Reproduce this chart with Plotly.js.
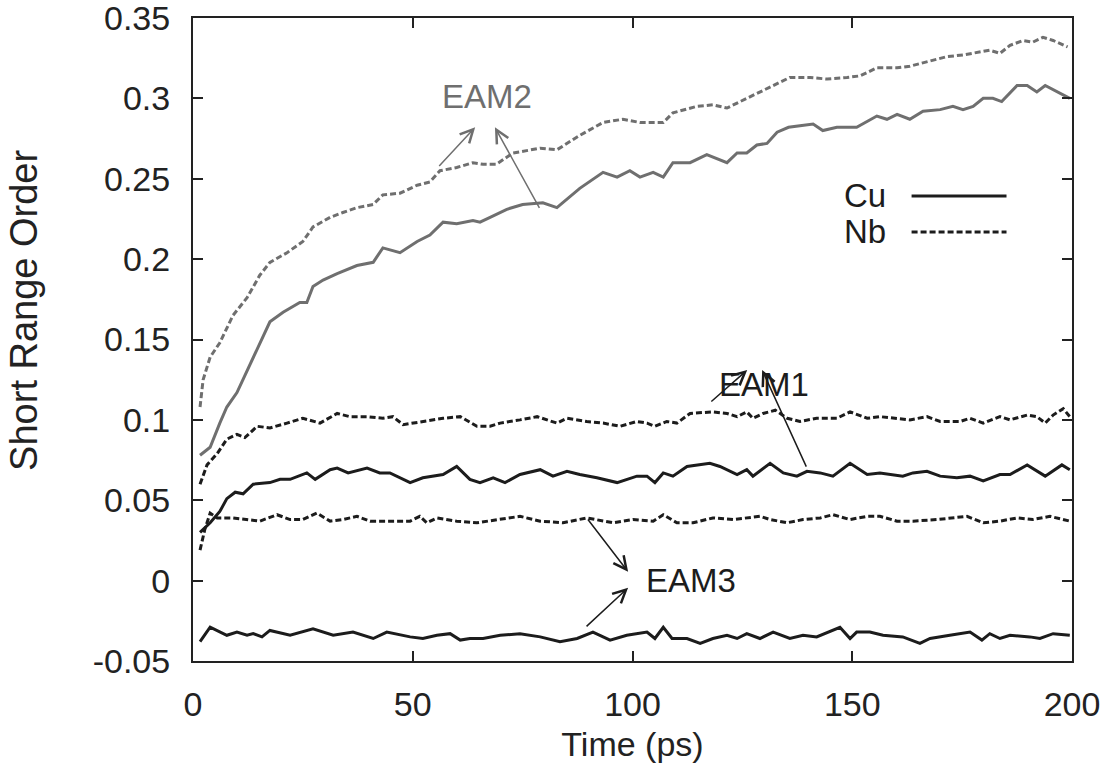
<!DOCTYPE html>
<html>
<head>
<meta charset="utf-8">
<script src="https://cdn.plot.ly/plotly-3.0.1.min.js"></script>
<style>html,body{margin:0;padding:0;background:#fff;}#chart{width:1109px;height:771px;}</style>
</head>
<body>
<div id="chart"></div>
<script>
// ---- Data (time in ps, short range order) ----
const nbEam2T = [1.6,2.3,3.9,6.1,9.1,12.3,15.2,17.5,21.4,25.0,27.3,31.2,34.1,37.3,41.0,43.2,47.1,51.0,53.9,56.2,60.0,63.7,66.0,69.0,72.8,79.0,82.8,88.0,93.3,97.8,101.7,107.0,109.2,114.6,118.3,121.5,126.0,129.7,131.3,135.8,140.4,144.3,148.8,151.8,155.6,160.2,163.1,167.7,171.6,175.2,179.0,181.3,183.6,185.9,188.9,191.1,193.4,195.7,199.0];
const nbEam2V = [0.108,0.125,0.139,0.148,0.165,0.176,0.190,0.198,0.204,0.211,0.220,0.226,0.229,0.232,0.234,0.240,0.241,0.246,0.248,0.255,0.257,0.260,0.259,0.259,0.266,0.269,0.268,0.277,0.285,0.287,0.285,0.285,0.291,0.295,0.296,0.294,0.300,0.305,0.307,0.313,0.313,0.312,0.313,0.314,0.319,0.319,0.320,0.323,0.326,0.327,0.329,0.330,0.328,0.333,0.336,0.335,0.338,0.336,0.332];

const cuEam2T = [1.6,3.9,6.1,7.7,10.0,13.0,15.2,17.5,20.5,24.3,25.9,27.3,29.6,32.8,37.3,41.0,43.2,47.1,51.0,53.9,56.9,60.0,63.7,65.3,67.6,71.4,75.0,79.6,82.8,88.0,93.3,96.5,99.4,101.7,104.7,107.0,109.2,113.1,116.9,121.5,123.8,126.0,128.3,130.6,132.9,135.5,138.1,141.1,143.3,146.5,151.0,155.6,157.9,160.2,163.1,166.1,170.0,172.9,175.2,177.5,179.8,182.0,184.0,187.5,189.8,192.0,193.9,196.6,199.5];
const cuEam2V = [0.078,0.083,0.098,0.108,0.117,0.135,0.148,0.161,0.167,0.173,0.173,0.183,0.187,0.191,0.196,0.198,0.207,0.204,0.211,0.215,0.223,0.222,0.224,0.223,0.226,0.231,0.234,0.235,0.232,0.244,0.254,0.251,0.255,0.251,0.254,0.251,0.260,0.260,0.265,0.260,0.266,0.266,0.271,0.272,0.279,0.282,0.283,0.284,0.280,0.282,0.282,0.289,0.287,0.290,0.287,0.292,0.293,0.295,0.293,0.295,0.300,0.300,0.298,0.308,0.308,0.304,0.308,0.304,0.300];

const nbEam1T = [1.6,3.2,5.5,7.7,10.0,11.8,14.6,17.5,21.4,25.0,28.9,32.8,35.7,39.6,43.2,45.5,47.8,52.3,56.9,60.8,64.6,67.6,69.9,74.4,78.3,82.8,85.1,89.6,93.3,97.2,101.0,103.3,105.1,107.8,110.1,113.1,118.3,121.5,123.8,126.0,127.4,129.7,132.5,135.2,138.1,141.9,146.5,149.5,153.4,156.3,160.2,163.1,167.0,170.0,174.5,176.8,179.8,183.6,185.9,189.8,192.0,193.9,195.7,198.0,199.5];
const nbEam1V = [0.060,0.072,0.079,0.088,0.091,0.089,0.096,0.095,0.098,0.101,0.098,0.104,0.102,0.102,0.101,0.102,0.097,0.099,0.101,0.102,0.096,0.096,0.098,0.100,0.102,0.098,0.101,0.099,0.098,0.096,0.099,0.098,0.096,0.099,0.098,0.104,0.105,0.104,0.102,0.105,0.101,0.104,0.106,0.101,0.099,0.101,0.101,0.105,0.101,0.102,0.101,0.100,0.102,0.099,0.099,0.101,0.098,0.102,0.100,0.103,0.102,0.098,0.103,0.107,0.102];

const cuEam1T = [1.6,3.9,6.1,7.7,9.6,11.4,13.7,17.5,19.8,22.1,25.9,27.8,31.2,32.8,35.3,39.6,42.5,44.8,49.4,52.3,56.9,60.0,63.0,65.3,68.3,71.0,74.4,79.0,81.9,85.1,88.0,91.9,96.5,101.0,103.3,105.1,107.0,109.2,112.4,117.6,119.9,123.8,126.0,127.4,131.3,134.3,137.4,139.7,142.7,145.6,149.5,153.4,156.3,159.3,161.5,163.8,167.0,170.0,173.8,176.8,179.8,183.6,185.9,189.8,193.9,197.7,199.5];
const cuEam1V = [0.030,0.036,0.043,0.051,0.055,0.054,0.060,0.061,0.063,0.063,0.067,0.063,0.069,0.070,0.067,0.070,0.067,0.067,0.061,0.064,0.066,0.071,0.063,0.061,0.064,0.061,0.066,0.069,0.065,0.068,0.066,0.064,0.061,0.065,0.065,0.061,0.067,0.065,0.071,0.073,0.071,0.066,0.069,0.065,0.073,0.067,0.065,0.068,0.067,0.065,0.073,0.066,0.067,0.066,0.065,0.067,0.068,0.065,0.064,0.065,0.062,0.066,0.066,0.072,0.065,0.072,0.069];

const nbEam3T = [1.6,2.7,3.9,5.5,9.1,12.3,15.2,19.1,22.1,25.0,28.2,31.2,34.1,37.3,40.3,44.8,49.4,51.6,53.2,55.5,60.0,64.6,69.9,74.4,79.0,84.2,89.6,95.6,100.1,104.7,107.0,110.1,113.8,118.3,122.9,129.0,131.3,135.2,138.8,142.7,145.6,149.5,153.4,156.3,160.2,163.8,169.3,176.1,179.8,183.6,187.5,191.1,195.0,198.0,199.5];
const nbEam3V = [0.019,0.032,0.042,0.039,0.039,0.038,0.037,0.041,0.038,0.038,0.042,0.037,0.038,0.040,0.037,0.037,0.037,0.040,0.036,0.039,0.037,0.036,0.038,0.040,0.037,0.036,0.039,0.036,0.038,0.037,0.041,0.036,0.036,0.039,0.038,0.040,0.038,0.036,0.038,0.039,0.041,0.038,0.040,0.040,0.037,0.037,0.038,0.040,0.036,0.037,0.039,0.038,0.040,0.038,0.037];

const cuEam3T = [1.6,3.9,7.7,10.0,12.3,13.7,15.7,17.5,22.1,25.0,27.3,31.9,36.4,41.0,44.1,49.4,52.3,55.5,58.5,60.8,63.0,66.0,69.9,74.4,79.0,83.5,87.4,91.0,94.9,98.7,103.3,105.1,107.0,109.0,112.4,115.4,118.3,121.5,123.8,126.0,129.0,132.0,135.8,138.8,141.9,147.2,149.5,151.0,154.0,157.0,161.5,165.4,167.7,172.2,176.8,179.5,181.3,183.6,185.9,190.4,192.7,195.7,199.5];
const cuEam3V = [-0.038,-0.029,-0.034,-0.032,-0.034,-0.033,-0.035,-0.031,-0.034,-0.032,-0.030,-0.034,-0.032,-0.036,-0.032,-0.035,-0.036,-0.034,-0.033,-0.037,-0.036,-0.036,-0.034,-0.033,-0.035,-0.038,-0.036,-0.032,-0.037,-0.034,-0.032,-0.036,-0.029,-0.036,-0.036,-0.039,-0.036,-0.034,-0.036,-0.033,-0.036,-0.032,-0.036,-0.034,-0.035,-0.029,-0.036,-0.032,-0.032,-0.034,-0.035,-0.039,-0.036,-0.034,-0.032,-0.037,-0.033,-0.036,-0.034,-0.035,-0.036,-0.033,-0.034];

const yTickVals = [-0.05,0,0.05,0.1,0.15,0.2,0.25,0.3,0.35];
const yTickText = ["-0.05","0","0.05","0.1","0.15","0.2","0.25","0.3","0.35"];
const xTickVals = [0,50,100,150,200];
const xTickText = ["0","50","100","150","200"];

// ---- Styles ----
const GRAY = "#6f6f6f";
const DARK = "#1c1c1c";
const DASH = "6px,3px";
const FONT = "Liberation Sans, Arial, Helvetica, sans-serif";

function trace(x, y, color, dash) {
  return {x: x, y: y, type: "scatter", mode: "lines", showlegend: false,
    hoverinfo: "skip",
    line: {color: color, width: 3, dash: dash || "solid"}};
}

const data = [
  trace(nbEam3T, nbEam3V, DARK, DASH),
  trace(cuEam3T, cuEam3V, DARK),
  trace(nbEam1T, nbEam1V, DARK, DASH),
  trace(cuEam1T, cuEam1V, DARK),
  trace(nbEam2T, nbEam2V, GRAY, DASH),
  trace(cuEam2T, cuEam2V, GRAY)
];

function arrow(hx, hy, tx, ty, color) {
  return {x: hx, y: hy, ax: tx, ay: ty, xref: "x", yref: "y", axref: "x", ayref: "y",
    text: "", showarrow: true, arrowhead: 5, arrowsize: 1.7, arrowwidth: 1.5,
    arrowcolor: color, standoff: 0, startstandoff: 0};
}
function label(x, y, txt, color, anchor) {
  return {x: x, y: y, xref: "x", yref: "y", text: txt, showarrow: false,
    xanchor: anchor || "center", yanchor: "middle",
    font: {family: FONT, size: 33, color: color}};
}

const annotations = [
  label(66.9, 0.301, "EAM2", GRAY),
  arrow(64.2, 0.282, 55.7, 0.257, GRAY),
  arrow(68.7, 0.282, 79.0, 0.231, GRAY),
  label(129.9, 0.122, "EAM1", DARK),
  arrow(126.1, 0.131, 117.6, 0.1106, DARK),
  arrow(129.5, 0.131, 139.7, 0.070, DARK),
  label(113.3, 0.0, "EAM3", DARK),
  arrow(99.0, 0.0055, 89.6, 0.039, DARK),
  arrow(99.0, -0.0045, 89.2, -0.0293, DARK),
  label(158.1, 0.2393, "Cu", DARK, "right"),
  label(158.1, 0.2169, "Nb", DARK, "right"),
  // y-axis title
  {xref: "paper", yref: "paper", x: -0.1923, y: 0.546, xanchor: "center", yanchor: "middle",
   text: "Short Range Order", textangle: -90, showarrow: false,
   font: {family: FONT, size: 38, color: "#222"}}
];

const shapes = [
  {type: "line", xref: "x", yref: "y", x0: 163.5, x1: 185.1, y0: 0.2393, y1: 0.2393,
   line: {color: DARK, width: 3}},
  {type: "line", xref: "x", yref: "y", x0: 163.5, x1: 185.1, y0: 0.2169, y1: 0.2169,
   line: {color: DARK, width: 3, dash: DASH}}
];

const axisCommon = {
  showgrid: false, zeroline: false, showline: true, mirror: "ticks",
  linecolor: "#222", linewidth: 2, ticks: "inside", ticklen: 10, tickwidth: 2,
  tickcolor: "#222", tickmode: "array", ticklabeloverflow: "allow",
  tickfont: {family: FONT, size: 34, color: "#222"}
};

const layout = {
  width: 1109, height: 771,
  paper_bgcolor: "#fff", plot_bgcolor: "#fff",
  margin: {l: 193, r: 37, t: 18, b: 110},
  xaxis: Object.assign({}, axisCommon, {
    range: [0, 200], tickvals: xTickVals, ticktext: xTickText,
    ticklabelstandoff: 12,
    title: {text: "Time (ps)", font: {family: FONT, size: 34, color: "#222"}, standoff: 10}
  }),
  yaxis: Object.assign({}, axisCommon, {
    range: [-0.05, 0.35], tickvals: yTickVals, ticktext: yTickText,
    ticklabelstandoff: 14
  }),
  annotations: annotations,
  shapes: shapes
};

Plotly.newPlot("chart", data, layout, {displayModeBar: false, staticPlot: true});
</script>
</body>
</html>
